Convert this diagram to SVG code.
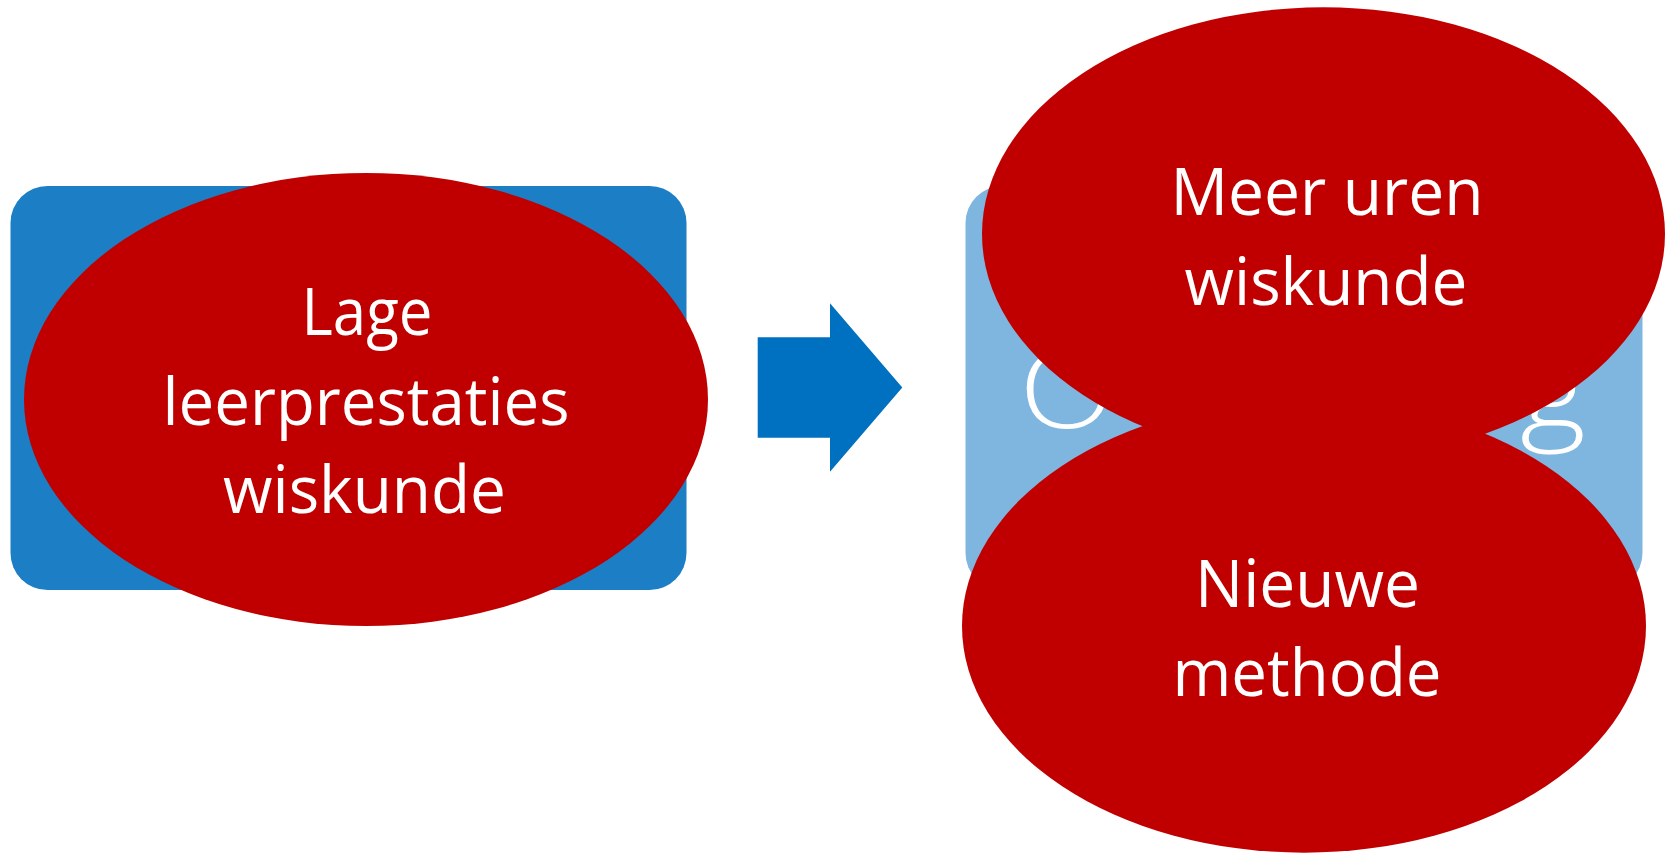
<svg xmlns="http://www.w3.org/2000/svg" width="1669" height="853" viewBox="0 0 1669 853">
  <style>
    .lbl { font-family: "Open Sans", "Noto Sans", "Liberation Sans", sans-serif; font-size: 66px; fill: #FFFFFF; text-anchor: middle; }
    .red { fill: #C00000; }
    .hid { font-family: "Open Sans", "Noto Sans", "Liberation Sans", sans-serif; font-size: 108px; font-weight: 300; fill: #FFFFFF; }
  </style>
  <rect width="1669" height="853" fill="#FFFFFF"/>

  <g id="node-problem">
    <rect x="10.5" y="186" width="676" height="404" rx="37" ry="37" fill="#1C7EC5"/>
    <ellipse class="red" cx="366" cy="399.5" rx="342" ry="226.5"/>
    <text class="lbl" x="367" y="335" textLength="131" lengthAdjust="spacingAndGlyphs">Lage</text>
    <text class="lbl" x="366" y="425" textLength="407" lengthAdjust="spacingAndGlyphs">leerprestaties</text>
    <text class="lbl" x="364.5" y="513" textLength="283" lengthAdjust="spacingAndGlyphs">wiskunde</text>
  </g>

  <g id="connectors">
    <polygon points="757.7,337.3 830,337.3 830,303.3 902.3,387.5 830,471.7 830,437.7 757.7,437.7" fill="#0070C0"/>
  </g>

  <g id="node-solution">
    <rect x="965.5" y="186" width="677" height="404" rx="37" ry="37" fill="#7FB6DF"/>
    <text class="hid" x="1019" y="428" textLength="96" lengthAdjust="spacingAndGlyphs">O</text>
    <text class="hid" x="1520" y="428" textLength="66" lengthAdjust="spacingAndGlyphs">g</text>
  </g>

  <g id="node-meer-uren">
    <ellipse class="red" cx="1323.5" cy="234" rx="341.5" ry="226.7"/>
    <text class="lbl" x="1327" y="215" textLength="313" lengthAdjust="spacingAndGlyphs">Meer uren</text>
    <text class="lbl" x="1326" y="305" textLength="283" lengthAdjust="spacingAndGlyphs">wiskunde</text>
  </g>

  <g id="node-nieuwe-methode">
    <ellipse class="red" cx="1304" cy="626" rx="342" ry="226.7"/>
    <text class="lbl" x="1307.5" y="606.7" textLength="225" lengthAdjust="spacingAndGlyphs">Nieuwe</text>
    <text class="lbl" x="1307" y="696" textLength="269" lengthAdjust="spacingAndGlyphs">methode</text>
  </g>
</svg>
